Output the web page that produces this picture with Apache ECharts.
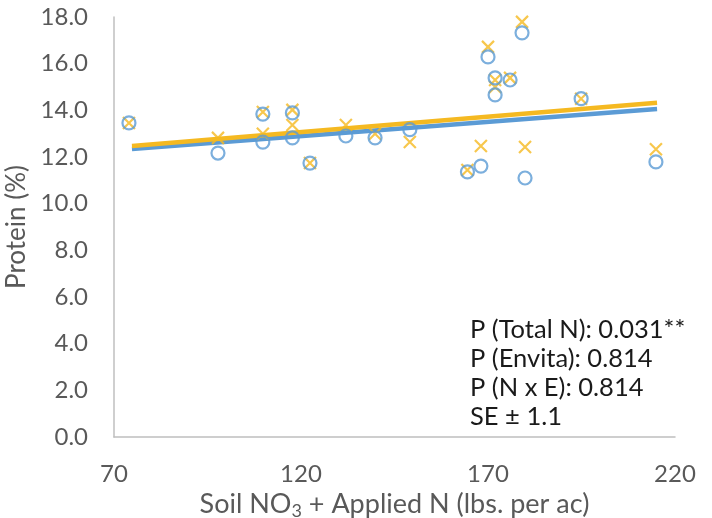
<!DOCTYPE html>
<html>
<head>
<meta charset="utf-8">
<script src="https://cdn.jsdelivr.net/npm/echarts@6/dist/echarts.min.js"></script>
<style>
  html, body { margin: 0; padding: 0; background: #fff; }
  #chart { width: 712px; height: 518px; }
</style>
</head>
<body>
<div id="chart"></div>
<script>
// Soil NO3 + applied N (lbs. per ac) for each plot
const nApplied = [74.0, 97.8, 109.8, 109.8, 117.7, 117.7, 122.4, 132.0, 139.8, 149.1,
                  164.5, 168.1, 170.0, 171.9, 171.9, 175.9, 179.1, 179.9, 194.9, 214.9];
// Grain protein (%) without Envita (circles)
const proteinControl = [13.46, 12.17, 13.84, 12.64, 13.89, 12.82, 11.74, 12.90, 12.82, 13.17,
                        11.36, 11.61, 16.29, 15.39, 14.66, 15.30, 17.32, 11.10, 14.50, 11.79];
// Grain protein (%) with Envita (crosses)
const proteinEnvita = [13.46, 12.82, 13.93, 13.00, 14.02, 13.37, 11.74, 13.37, 13.00, 12.64,
                       11.44, 12.47, 16.72, 15.30, 15.00, 15.39, 17.79, 12.43, 14.50, 12.33];
// Linear trend end points
const trendN = [74.8, 215.2];
const trendControl = [12.34, 14.06];
const trendEnvita = [12.47, 14.32];
// Axis ticks
const xTicks = { min: 70, max: 220, step: 50 };
const yTicks = { min: 0, max: 18, step: 2 };
// Statistics box
const statLines = ['P (Total N): 0.031**', 'P (Envita): 0.814', 'P (N x E): 0.814', 'SE \u00b1 1.1'];

const BLUE = '#5B9BD5';
const GOLD = '#F5B921';
const FONT = 'Lato, "Open Sans", sans-serif';
const GREY_TEXT = '#595959';

const zip = (xs, ys) => xs.map((x, i) => [x, ys[i]]);
const crossPath = 'path://M0,0L10,10M10,0L0,10';

const chart = echarts.init(document.getElementById('chart'), null, { renderer: 'canvas' });
chart.setOption({
  animation: false,
  backgroundColor: '#fff',
  grid: { left: 114, right: 37, top: 17, bottom: 81, containLabel: false, outerBoundsMode: 'none' },
  xAxis: {
    type: 'value',
    min: xTicks.min, max: xTicks.max, interval: xTicks.step,
    name: 'Soil NO{sub|3} + Applied N (lbs. per ac)',
    nameLocation: 'middle',
    nameGap: 50,
    nameTextStyle: {
      fontFamily: FONT, fontSize: 27, color: GREY_TEXT,
      rich: { sub: { fontFamily: FONT, fontSize: 18, color: GREY_TEXT, padding: [14, 0, 0, 0] } }
    },
    axisLine: { show: true, lineStyle: { color: '#bfbfbf', width: 1.5 } },
    axisTick: { show: false },
    splitLine: { show: false },
    axisLabel: { fontFamily: FONT, fontSize: 24, color: GREY_TEXT, margin: 25 }
  },
  yAxis: {
    type: 'value',
    min: yTicks.min, max: yTicks.max, interval: yTicks.step,
    name: 'Protein (%)',
    nameLocation: 'middle',
    nameGap: 74,
    nameTextStyle: { fontFamily: FONT, fontSize: 26, color: GREY_TEXT },
    axisLine: { show: true, lineStyle: { color: '#bfbfbf', width: 1.5 } },
    axisTick: { show: false },
    splitLine: { show: false },
    axisLabel: {
      fontFamily: FONT, fontSize: 24, color: GREY_TEXT, margin: 26,
      formatter: v => v.toFixed(1)
    }
  },
  series: [
    {
      name: 'Control trend', type: 'line', data: zip(trendN, trendControl),
      symbol: 'none', lineStyle: { color: BLUE, width: 4.5 }, z: 1
    },
    {
      name: 'Envita trend', type: 'line', data: zip(trendN, trendEnvita),
      symbol: 'none', lineStyle: { color: GOLD, width: 4.5 }, z: 1
    },
    {
      name: 'Envita', type: 'scatter', data: zip(nApplied, proteinEnvita),
      symbol: crossPath, symbolSize: 12,
      itemStyle: { color: 'rgba(0,0,0,0)', borderColor: GOLD, borderWidth: 2.2 }, z: 2
    },
    {
      name: 'Control', type: 'scatter', data: zip(nApplied, proteinControl),
      symbol: 'circle', symbolSize: 13,
      itemStyle: { color: 'rgba(0,0,0,0)', borderColor: BLUE, borderWidth: 2.2 }, z: 3
    }
  ],
  graphic: [{
    type: 'text', left: 470, top: 315,
    style: {
      text: statLines.join('\n'),
      font: '25.5px ' + FONT,
      fill: '#1a1a1a',
      lineHeight: 29
    }
  }]
});
</script>
</body>
</html>
